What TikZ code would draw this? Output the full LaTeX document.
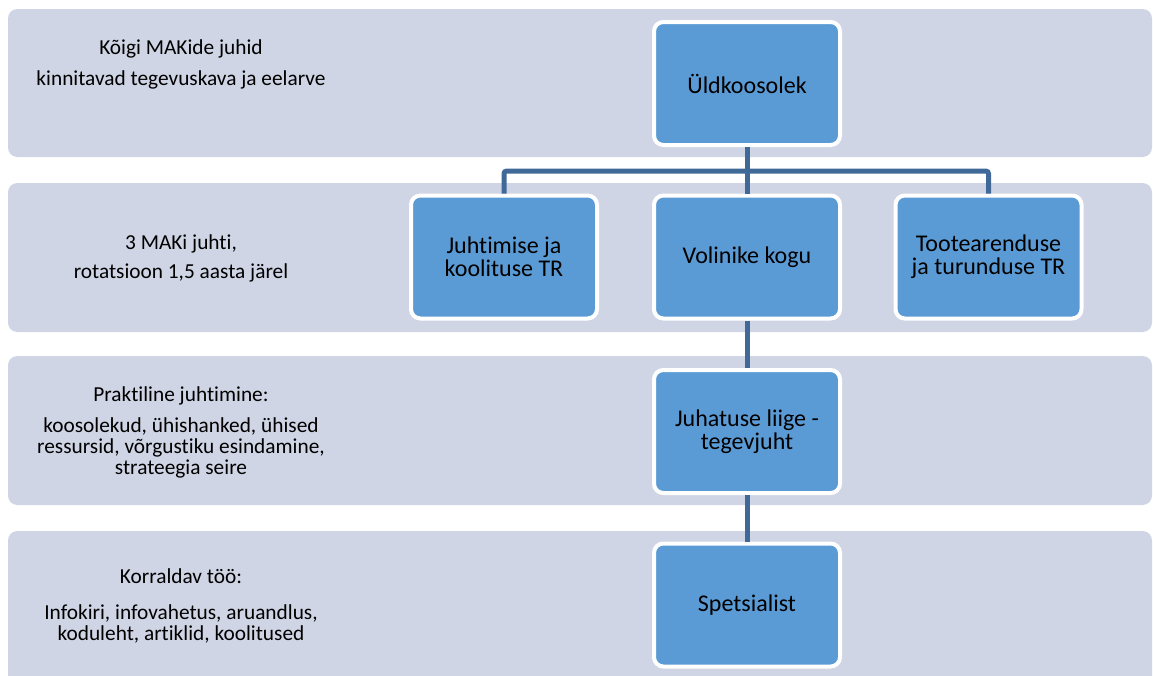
\documentclass[tikz,border=0pt]{standalone}
\usepackage{fontspec}
\setmainfont{Carlito}[Ligatures=NoCommon]
\definecolor{bandgray}{RGB}{207,213,228}
\definecolor{boxblue}{RGB}{91,155,213}
\definecolor{linkblue}{RGB}{65,105,152}

\begin{document}
\begin{tikzpicture}[x=0.75pt,y=-0.75pt,
    band/.style={fill=bandgray, rounded corners=7pt},
    unit/.style={draw=white, line width=3pt, fill=boxblue, rounded corners=7pt,
      minimum width=139.5pt, minimum height=92.25pt, inner sep=2pt,
      align=center, font=\fontsize{18}{17.5}\selectfont},
    note/.style={align=center, inner sep=0pt, anchor=base,
      font=\fontsize{16}{15.75}\selectfont},
    link/.style={draw=linkblue, line width=3.75pt}]
  \useasboundingbox (0,0) rectangle (1153,675);
  \clip (0,0) rectangle (1153,675);

  % levels
  \fill[band] (8,9) rectangle (1152,157);
  \fill[band] (8,183) rectangle (1152,332);
  \fill[band] (8,356) rectangle (1152,505);
  \fill[band] (8,531) rectangle (1152,690);

  % level texts (placed at the last line)
  \node[note] (n1) at (181,85) {Kõigi MAKide juhid\\[7pt]kinnitavad tegevuskava ja eelarve};
  \node[note] (n2) at (181,278) {3 MAKi juhti,\\[6pt]rotatsioon 1,5 aasta järel};
  \node[note] (n3) at (181,474) {Praktiline juhtimine:\\[7.5pt]koosolekud, ühishanked, ühised\\ressursid, võrgustiku esindamine,\\strateegia seire};
  \node[note] (n4) at (181,640) {Korraldav töö:\\[11pt]Infokiri, infovahetus, aruandlus,\\koduleht, artiklid, koolitused};

  % units
  \node[unit] (uld) at (747,83.5) {Üldkoosolek};
  \node[unit] (juht) at (504,257) {Juhtimise ja\\koolituse TR};
  \node[unit] (vol) at (747,257) {Volinike kogu};
  \node[unit] (toote) at (988.5,257) {Tootearenduse\\ja turunduse TR};
  \node[unit] (juhatus) at (747,431.5) {Juhatuse liige -\\tegevjuht};
  \node[unit] (spets) at (747,605) {Spetsialist};

  \coordinate (bar) at (747,171);
  \draw[link] (uld) -- (vol);
  \draw[link, rounded corners=2pt] (juht.north) |- (bar) -| (toote.north);
  \draw[link] (vol) -- (juhatus);
  \draw[link] (juhatus) -- (spets);
\end{tikzpicture}
\end{document}
